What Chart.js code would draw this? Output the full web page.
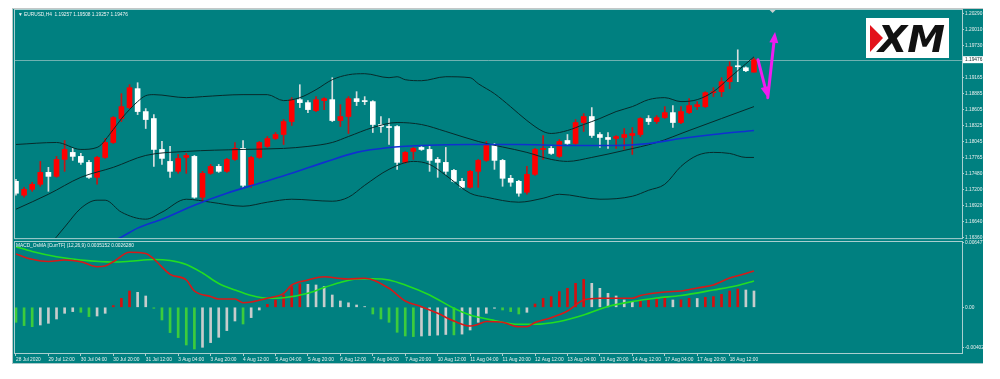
<!DOCTYPE html>
<html><head><meta charset="utf-8">
<script src="https://cdn.jsdelivr.net/npm/chart.js@4.4.1/dist/chart.umd.min.js"></script>
<style>
html,body{margin:0;padding:0;background:#fff;width:1000px;height:379px;overflow:hidden;}
#panel{position:absolute;left:12px;top:8px;width:971px;height:356px;background:#008080;overflow:hidden;}
#c1{position:absolute;left:-12px;top:-8px;}
#c2{position:absolute;left:-12px;top:228px;}
#ftop{position:absolute;left:12px;top:8px;width:971px;height:1px;background:#c4c8c8;}
#fleft{position:absolute;left:12px;top:8px;width:1px;height:356px;background:#b8c8c8;}
#fbot{position:absolute;left:12px;top:363px;width:971px;height:1px;background:#a8c8c8;}
</style></head><body>
<div id="panel"><canvas id="c1" width="1000" height="242"></canvas><canvas id="c2" width="1000" height="129"></canvas></div>
<div id="ftop"></div><div id="fleft"></div><div id="fbot"></div>
<script>
// ---------- DATA ----------
const headerText = "\u25BC EURUSD,H4  1.19257 1.19508 1.19257 1.19476";
const macdHeader = "MACD_OsMA [CurrTF] (12,26,9) 0.0035152 0.0026280";
const logoText = "XM";
const bidPrice = 1.19476;

const open = [1.17343,1.17099,1.17203,1.17291,1.17500,1.17430,1.17727,1.17850,1.17780,1.17675,
1.17413,1.17762,1.18024,1.18444,1.18636,1.18968,1.18566,1.18444,1.17902,1.17692,
1.17518,1.17762,1.17780,1.17064,1.17483,1.17605,1.17518,1.17727,1.17920,1.17273,
1.17762,1.17955,1.18094,1.18164,1.18391,1.18775,1.18723,1.18583,1.18758,1.18775,
1.18409,1.18479,1.18793,1.18758,1.18741,1.18339,1.18304,1.18304,1.17675,1.17867,
1.17937,1.17902,1.17727,1.17675,1.17535,1.17343,1.17238,1.17518,1.17710,1.17972,
1.17710,1.17396,1.17343,1.17151,1.17465,1.17902,1.17920,1.17780,1.18059,1.18007,
1.18374,1.18479,1.18164,1.18112,1.18094,1.18112,1.18147,1.18164,1.18444,1.18391,
1.18461,1.18548,1.18374,1.18548,1.18653,1.18653,1.18898,1.18915,1.19090,1.19369,
1.19334,1.19257];
const high = [1.17378,1.17238,1.17326,1.17692,1.17588,1.17780,1.18059,1.17920,1.17832,1.17710,
1.17780,1.18094,1.18479,1.18880,1.19037,1.19072,1.18618,1.18513,1.18042,1.17955,
1.17815,1.17832,1.17797,1.17518,1.17640,1.17640,1.17745,1.18024,1.18059,1.17780,
1.18042,1.18129,1.18199,1.18426,1.18810,1.19037,1.18758,1.18828,1.18810,1.19160,
1.18688,1.18828,1.18915,1.18828,1.18758,1.18479,1.18444,1.18321,1.17867,1.17937,
1.17972,1.17972,1.17762,1.17937,1.17553,1.17396,1.17535,1.17727,1.18042,1.18007,
1.17727,1.17448,1.17361,1.17605,1.17920,1.18147,1.17955,1.18077,1.18164,1.18426,
1.18531,1.18636,1.18199,1.18199,1.18147,1.18269,1.18286,1.18461,1.18496,1.18496,
1.18653,1.18671,1.18653,1.18793,1.18741,1.18915,1.18985,1.19160,1.19439,1.19649,
1.19352,1.19508];
const low = [1.17099,1.17064,1.17168,1.17256,1.17168,1.17413,1.17518,1.17710,1.17640,1.17396,
1.17291,1.17745,1.18007,1.18391,1.18618,1.18513,1.18269,1.17605,1.17640,1.17413,
1.17483,1.17483,1.17046,1.16977,1.17465,1.17500,1.17500,1.17710,1.17221,1.17238,
1.17745,1.17937,1.18077,1.17989,1.18321,1.18636,1.18548,1.18566,1.18601,1.18391,
1.18304,1.18182,1.18671,1.18688,1.18199,1.18199,1.17989,1.17553,1.17658,1.17727,
1.17885,1.17518,1.17413,1.17465,1.17326,1.17221,1.17221,1.17238,1.17692,1.17553,
1.17256,1.17256,1.17081,1.17116,1.17448,1.17727,1.17815,1.17762,1.17989,1.17989,
1.18217,1.18112,1.17937,1.17920,1.17920,1.17902,1.17815,1.18129,1.18339,1.18356,
1.18444,1.18286,1.18356,1.18531,1.18601,1.18636,1.18828,1.18828,1.18968,1.19090,
1.19264,1.19257];
const close = [1.17134,1.17203,1.17291,1.17500,1.17430,1.17727,1.17902,1.17780,1.17675,1.17413,
1.17762,1.18024,1.18461,1.18653,1.18985,1.18566,1.18426,1.17902,1.17745,1.17518,
1.17745,1.17797,1.17064,1.17483,1.17605,1.17518,1.17727,1.17920,1.17273,1.17762,
1.18024,1.18094,1.18164,1.18391,1.18775,1.18723,1.18601,1.18775,1.18793,1.18409,
1.18479,1.18793,1.18741,1.18741,1.18339,1.18304,1.18286,1.17675,1.17850,1.17920,
1.17902,1.17710,1.17675,1.17518,1.17343,1.17238,1.17518,1.17710,1.17972,1.17710,
1.17396,1.17326,1.17134,1.17465,1.17902,1.17920,1.17832,1.18042,1.18007,1.18374,
1.18479,1.18147,1.18112,1.18077,1.18129,1.18164,1.18182,1.18444,1.18391,1.18461,
1.18548,1.18374,1.18566,1.18671,1.18688,1.18898,1.18915,1.19090,1.19352,1.19352,
1.19282,1.19476];

// Bollinger bands (bar index, price)
const bbUpperIdx = [0,5,8,10,12,13,14,15,16,17,21,23,28,31,33,35,37,39,41,43,46,47,48,50,53,56,57,59,61,63,65,66,68,70,72,74,76,78,80,82,84,86,88,90,91];
const bbUpper = [1.17989,1.18024,1.17902,1.17937,1.18251,1.18440,1.18601,1.18741,1.18845,1.18863,1.18810,1.18828,1.18863,1.18863,1.18758,1.18810,1.18950,1.19125,1.19212,1.19230,1.19160,1.19177,1.19125,1.19107,1.19177,1.19160,1.19055,1.18880,1.18650,1.18409,1.18217,1.18182,1.18234,1.18339,1.18444,1.18566,1.18653,1.18775,1.18810,1.18741,1.18775,1.18915,1.19160,1.19404,1.19526];
const bbMidIdx = [0,4,8,12,16,21,28,33,36,39,41,44,47,50,53,57,63,66,68,71,75,79,83,87,91];
const bbMid = [1.16854,1.17116,1.17413,1.17588,1.17797,1.17867,1.17902,1.17920,1.17955,1.18024,1.18129,1.18286,1.18374,1.18339,1.18217,1.18042,1.17850,1.17727,1.17692,1.17762,1.17885,1.18024,1.18234,1.18444,1.18653];
const bbLowerIdx = [0,4,6,8,10,11,13,16,18,21,24,28,31,34,39,41,43,46,49,51,53,56,58,62,65,67,72,76,78,80,82,84,86,88,90,91];
const bbLower = [1.15719,1.16208,1.16540,1.16871,1.17012,1.17012,1.16802,1.16679,1.16802,1.17029,1.16977,1.16906,1.16977,1.17029,1.16994,1.17064,1.17273,1.17553,1.17692,1.17640,1.17448,1.17134,1.17064,1.16977,1.17046,1.17116,1.17029,1.17081,1.17186,1.17291,1.17605,1.17797,1.17850,1.17832,1.17762,1.17762];
// Moving average (blue)
const maIdx = [10,13,15,18,22,26,30,34,38,42,46,50,56,62,68,74,78,82,86,91];
const maVals = [1.16155,1.16365,1.16522,1.16679,1.16924,1.17134,1.17308,1.17483,1.17675,1.17850,1.17937,1.17972,1.17989,1.17989,1.17972,1.17972,1.18007,1.18094,1.18164,1.18234];

// MACD_OsMA panel
const osma = [-0.00150,-0.00183,-0.00194,-0.00177,-0.00160,-0.00117,-0.00060,-0.00043,-0.00050,-0.00093,
-0.00087,-0.00060,0.00017,0.00090,0.00163,0.00150,0.00113,-0.00010,-0.00127,-0.00253,
-0.00303,-0.00377,-0.00417,-0.00400,-0.00353,-0.00300,-0.00233,-0.00137,-0.00167,-0.00103,
-0.00027,0.00030,0.00073,0.00123,0.00207,0.00233,0.00230,0.00223,0.00207,0.00123,
0.00063,0.00045,0.00023,0.00007,-0.00067,-0.00117,-0.00150,-0.00250,-0.00287,-0.00293,
-0.00287,-0.00282,-0.00278,-0.00272,-0.00276,-0.00268,-0.00227,-0.00150,-0.00060,-0.00010,
-0.00027,-0.00043,-0.00067,-0.00050,0.00033,0.00090,0.00107,0.00157,0.00190,0.00240,
0.00280,0.00240,0.00190,0.00140,0.00113,0.00073,0.00057,0.00067,0.00073,0.00080,
0.00090,0.00073,0.00075,0.00090,0.00088,0.00100,0.00107,0.00130,0.00163,0.00183,
0.00173,0.00163];
const macdIdx = [0,2,4,6,8,10,11,12,14,16,17,19,21,22,24,25,27,28,29,31,33,34,36,38,40,41,43,46,48,50,52,54,56,57,58,60,62,63,64,66,68,70,72,76,77,80,82,84,86,88,90,91];
const macdMain = [0.00533,0.00480,0.00458,0.00473,0.00456,0.00406,0.00413,0.00456,0.00550,0.00538,0.00483,0.00330,0.00273,0.00163,0.00108,0.00083,0.00083,0.00046,0.00053,0.00090,0.00140,0.00223,0.00273,0.00306,0.00288,0.00283,0.00290,0.00190,0.00063,0.00006,-0.00060,-0.00137,-0.00187,-0.00170,-0.00142,-0.00150,-0.00194,-0.00194,-0.00152,-0.00104,-0.00037,0.00073,0.00090,0.00090,0.00118,0.00153,0.00163,0.00193,0.00223,0.00293,0.00338,0.00363];
const signalIdx = [0,2,5,8,12,14,17,19,21,23,25,27,29,31,33,36,38,40,42,44,46,48,51,54,56,59,62,64,67,70,73,76,79,82,86,89,91];
const macdSignal = [0.00606,0.00558,0.00506,0.00473,0.00453,0.00460,0.00478,0.00468,0.00428,0.00343,0.00238,0.00173,0.00118,0.00090,0.00095,0.00140,0.00198,0.00248,0.00283,0.00285,0.00273,0.00223,0.00123,-0.00010,-0.00077,-0.00132,-0.00170,-0.00170,-0.00142,-0.00077,0.00008,0.00058,0.00093,0.00118,0.00173,0.00218,0.00263];

// axis ticks
const priceTicks = [1.20290,1.20010,1.19730,1.19165,1.18885,1.18605,1.18325,1.18045,1.17765,1.17480,1.17200,1.16920,1.16640,1.16360];
const macdTicks = [0.006477,0,-0.004022];
const timeLabels = ["28 Jul 2020","29 Jul 12:00","30 Jul 04:00","30 Jul 20:00","31 Jul 12:00","3 Aug 04:00","3 Aug 20:00","4 Aug 12:00","5 Aug 04:00","5 Aug 20:00","6 Aug 12:00","7 Aug 04:00","7 Aug 20:00","10 Aug 12:00","11 Aug 04:00","11 Aug 20:00","12 Aug 12:00","13 Aug 04:00","13 Aug 20:00","14 Aug 12:00","17 Aug 04:00","17 Aug 20:00","18 Aug 12:00"];
const TICK_STEP = 4; // bars between time labels

// annotation arrows (bar index, price)
const arrowPath = [[91.5,1.19474],[92.7,1.18810],[93.6,1.19963]];
const shiftMarkerIdx = 93.3;

// ---------- RENDER ----------
Chart.defaults.font.family = "'Liberation Sans', Arial, sans-serif";
Chart.defaults.font.size = 4.8;
Chart.defaults.color = '#e8eeee';
const X_MIN = -0.12, X_MAX = 116.65;
const FRAME = '#a9cfcf';
const pts = (ix, v) => ix.map((x, k) => ({x, y: v[k]}));
const bars = open.map((_, i) => i);
const bull = open.map((o, i) => close[i] >= o);

const frame = {id:'frame', afterDraw(c){const a=c.chartArea,x=c.ctx;x.save();x.strokeStyle=FRAME;x.lineWidth=1;x.strokeRect(a.left-0.5,a.top-0.5,a.right-a.left+1,a.bottom-a.top+1);x.restore();}};

function arrow(ctx,x1,y1,x2,y2){
  const ang=Math.atan2(y2-y1,x2-x1),L=11,W=4.5;
  const bx=x2-L*Math.cos(ang),by=y2-L*Math.sin(ang);
  ctx.beginPath();ctx.moveTo(x1,y1);ctx.lineTo(bx,by);ctx.stroke();
  ctx.beginPath();ctx.moveTo(x2,y2);ctx.lineTo(bx+W*Math.sin(ang),by-W*Math.cos(ang));ctx.lineTo(bx-W*Math.sin(ang),by+W*Math.cos(ang));ctx.closePath();ctx.fill();
}

const overlay1 = {id:'ov1',
  beforeDatasetsDraw(c){const a=c.chartArea,ctx=c.ctx,y=Math.round(c.scales.y.getPixelForValue(bidPrice))+0.5;
    ctx.save();ctx.strokeStyle='rgba(185,210,210,0.6)';ctx.lineWidth=1;ctx.beginPath();ctx.moveTo(a.left,y);ctx.lineTo(a.right,y);ctx.stroke();ctx.restore();},
  afterDraw(c){const a=c.chartArea,ctx=c.ctx,xs=c.scales.x,ys=c.scales.y;ctx.save();
    ctx.font="4.8px 'Liberation Sans'";ctx.fillStyle='#f0f4f4';ctx.textBaseline='middle';ctx.textAlign='left';
    ctx.fillText(headerText,a.left+3,a.top+5);
    // bid label
    const by=ys.getPixelForValue(bidPrice);
    ctx.fillStyle='#ffffff';ctx.fillRect(a.right+1,by-3.5,21,7);
    ctx.fillStyle='#0a2a2a';ctx.fillText(bidPrice.toFixed(5),a.right+3,by);
    // shift marker
    const sx=xs.getPixelForValue(shiftMarkerIdx);
    ctx.fillStyle='#c8d0d0';ctx.beginPath();ctx.moveTo(sx-3,a.top);ctx.lineTo(sx+3,a.top);ctx.lineTo(sx,a.top+3);ctx.closePath();ctx.fill();
    // logo
    const lx=a.right-96,ly=a.top+8;
    ctx.fillStyle='#ffffff';ctx.fillRect(lx,ly,83,40);
    ctx.fillStyle='#e3121b';ctx.beginPath();ctx.moveTo(lx+4,ly+7);ctx.lineTo(lx+17,ly+20);ctx.lineTo(lx+4,ly+34);ctx.closePath();ctx.fill();
    ctx.fillStyle='#111';ctx.font="italic bold 38px 'DejaVu Sans'";ctx.textBaseline='alphabetic';
    const w=ctx.measureText(logoText).width;ctx.save();ctx.translate(lx+12,ly+34);ctx.scale(67/w,1);ctx.fillText(logoText,0,0);ctx.restore();
    // arrows
    ctx.strokeStyle='#f01cf0';ctx.fillStyle='#f01cf0';ctx.lineWidth=3;ctx.lineCap='round';
    const p=arrowPath.map(q=>[xs.getPixelForValue(q[0]),ys.getPixelForValue(q[1])]);
    arrow(ctx,p[0][0],p[0][1],p[1][0],p[1][1]);
    arrow(ctx,p[1][0],p[1][1],p[2][0],p[2][1]);
    ctx.restore();}
};

const overlay2 = {id:'ov2', afterDraw(c){const a=c.chartArea,ctx=c.ctx;ctx.save();
  ctx.font="4.8px 'Liberation Sans'";ctx.fillStyle='#f0f4f4';ctx.textBaseline='middle';ctx.fillText(macdHeader,a.left+1,a.top+3.5);ctx.restore();}};

const lineDs = (data,color,width,order)=>({type:'line',data,borderColor:color,borderWidth:width,pointRadius:0,tension:0.35,cubicInterpolationMode:'monotone',fill:false,clip:0,order});

new Chart(document.getElementById('c1'),{
  type:'bar',
  data:{datasets:[
    {data:bars.map(i=>({x:i,y:[low[i],high[i]]})),backgroundColor:bull.map(b=>b?'#c81414':'#d8dede'),barThickness:1,grouped:false,borderWidth:0,clip:0,order:6},
    {data:bars.map(i=>({x:i,y:[open[i],close[i]]})),backgroundColor:bull.map(b=>b?'#ff0000':'#ffffff'),barThickness:5,minBarLength:1,grouped:false,borderWidth:0,clip:0,order:5},
    lineDs(pts(bbUpperIdx,bbUpper),'#072a2a',1,3),
    lineDs(pts(bbMidIdx,bbMid),'#072a2a',1,3),
    lineDs(pts(bbLowerIdx,bbLower),'#072a2a',1,3),
    lineDs(pts(maIdx,maVals),'#1030d0',1.6,1)
  ]},
  options:{responsive:false,animation:false,devicePixelRatio:1,
    layout:{padding:{left:15,top:10,right:0,bottom:3}},
    plugins:{legend:{display:false},tooltip:{enabled:false}},
    scales:{
      x:{type:'linear',min:X_MIN,max:X_MAX,display:false,offset:false,grid:{offset:false}},
      y:{position:'right',min:1.16347,max:1.20347,
        afterFit:s=>{s.width=38;},
        afterBuildTicks:s=>{s.ticks=priceTicks.map(v=>({value:v}));},
        ticks:{callback:v=>Number(v).toFixed(5),padding:1,crossAlign:'near',color:'#e8eeee',autoSkip:false},
        grid:{drawOnChartArea:false,drawTicks:true,tickLength:2,color:FRAME},border:{display:false}}
    }},
  plugins:[overlay1,frame]
});

const osmaColors = osma.map((v,i)=>{const prev=i>0?osma[i-1]:0; if(v>0) return v>=prev?'#d41010':'#c8cccc'; return v<prev?'#3ccc3c':'#c8cccc';});

new Chart(document.getElementById('c2'),{
  type:'bar',
  data:{datasets:[
    {data:osma.map((v,i)=>({x:i,y:v})),backgroundColor:osmaColors,barThickness:2,grouped:false,borderWidth:0,clip:0,order:5},
    lineDs(pts(signalIdx,macdSignal),'#22dd22',1.6,2),
    lineDs(pts(macdIdx,macdMain),'#d81818',1.6,1)
  ]},
  options:{responsive:false,animation:false,devicePixelRatio:1,
    layout:{padding:{left:15,top:6,right:0,bottom:0}},
    plugins:{legend:{display:false},tooltip:{enabled:false}},
    scales:{
      x:{type:'linear',min:X_MIN,max:X_MAX,offset:false,position:'bottom',
        afterFit:s=>{s.height=12;},
        afterBuildTicks:s=>{s.ticks=timeLabels.map((_,k)=>({value:k*TICK_STEP}));},
        ticks:{callback:(v,i)=>timeLabels[i],align:'start',padding:1,maxRotation:0,autoSkip:false,color:'#e8eeee'},
        grid:{drawOnChartArea:false,drawTicks:true,tickLength:3,color:FRAME,offset:false},border:{display:false}},
      y:{position:'right',min:-0.00457,max:0.00653,
        afterFit:s=>{s.width=38;},
        afterBuildTicks:s=>{s.ticks=macdTicks.map(v=>({value:v}));},
        ticks:{callback:v=>v===0?'0.00':Number(v).toFixed(6),padding:1,crossAlign:'near',color:'#e8eeee',autoSkip:false},
        grid:{drawOnChartArea:false,drawTicks:true,tickLength:2,color:FRAME},border:{display:false}}
    }},
  plugins:[overlay2,frame]
});
</script>
</body></html>
